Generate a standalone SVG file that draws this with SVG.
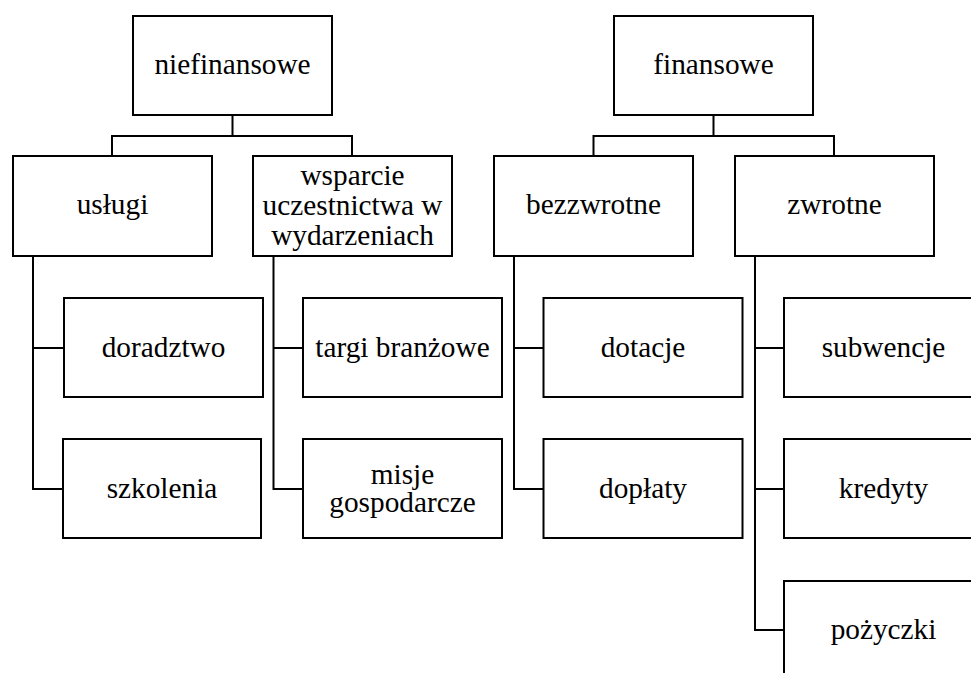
<svg xmlns="http://www.w3.org/2000/svg" width="971" height="673" viewBox="0 0 971 673">
<style>
rect{fill:#fff;stroke:#000;stroke-width:2}
.c{fill:none;stroke:#000;stroke-width:2}
text{font-size:29.3px;fill:#000;text-anchor:middle}
</style>
<rect x="0" y="0" width="971" height="673" style="stroke:none"/>
<g id="connectors" class="c">
<path d="M232.5 115V136M112 156V136H352V156"/>
<path d="M713.5 115V136M593.5 156V136H834V156"/>
<path d="M33 256V489H63M33 348H64"/>
<path d="M273.5 256V489H303M273.5 348H303"/>
<path d="M514 256V489H543.5M514 348H543.5"/>
<path d="M755 256V630H784M755 348H784M755 489H784"/>
</g>
<g font-family="'Liberation Serif', 'DejaVu Serif', serif">
<g id="niefinansowe"><rect x="133" y="16" width="199" height="99"/><text x="232.5" y="73.5">niefinansowe</text></g>
<g id="finansowe"><rect x="614" y="16" width="199" height="99"/><text x="713.5" y="73.5">finansowe</text></g>
<g id="uslugi"><rect x="13" y="156" width="199" height="100"/><text x="112.5" y="213.5">usługi</text></g>
<g id="wsparcie"><rect x="253" y="156" width="199" height="100"/><text x="352.5" y="185">wsparcie</text><text x="352.5" y="215">uczestnictwa w</text><text x="352.5" y="244.5">wydarzeniach</text></g>
<g id="bezzwrotne"><rect x="494" y="156" width="199" height="100"/><text x="593.5" y="213.5">bezzwrotne</text></g>
<g id="zwrotne"><rect x="735" y="156" width="199" height="100"/><text x="834.5" y="213.5">zwrotne</text></g>
<g id="doradztwo"><rect x="64" y="298" width="199" height="99"/><text x="163.5" y="357">doradztwo</text></g>
<g id="szkolenia"><rect x="63" y="439" width="198" height="99"/><text x="162" y="497.5">szkolenia</text></g>
<g id="targi"><rect x="303" y="298" width="199" height="99"/><text x="402.5" y="357">targi branżowe</text></g>
<g id="misje"><rect x="303" y="439" width="199" height="99"/><text x="402.5" y="483.5">misje</text><text x="402.5" y="511.5">gospodarcze</text></g>
<g id="dotacje"><rect x="543.5" y="298" width="199" height="99"/><text x="643" y="357">dotacje</text></g>
<g id="doplaty"><rect x="543.5" y="439" width="199" height="99"/><text x="643" y="497.5">dopłaty</text></g>
<g id="subwencje"><rect x="784" y="298" width="199" height="99"/><text x="883.5" y="357">subwencje</text></g>
<g id="kredyty"><rect x="784" y="439" width="199" height="99"/><text x="883.5" y="497.5">kredyty</text></g>
<g id="pozyczki"><rect x="784" y="581" width="199" height="99"/><text x="883.5" y="638.5">pożyczki</text></g>
</g>
</svg>
